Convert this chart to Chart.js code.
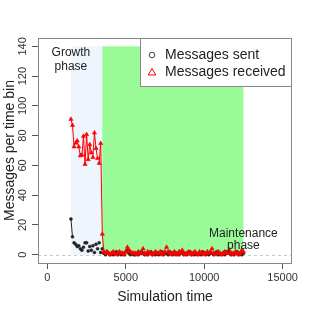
<!DOCTYPE html>
<html>
<head>
<meta charset="utf-8">
<script src="https://cdn.jsdelivr.net/npm/chart.js@4/dist/chart.umd.min.js"></script>
<style>
  html, body { margin: 0; padding: 0; background: #fff; }
  canvas { display: block; }
</style>
</head>
<body>
<canvas id="messageChart" width="312" height="312"></canvas>
<script>
// ----data------------------------------
const binTimes = [
  1500, 1600, 1700, 1800, 1900, 2000, 2100, 2200, 2300, 2400,
  2500, 2600, 2700, 2800, 2900, 3000, 3100, 3200, 3300, 3400,
  3500, 3600, 3700, 3800, 3900, 4000, 4100, 4200, 4300, 4400,
  4500, 4600, 4700, 4800, 4900, 5000, 5100, 5200, 5300, 5400,
  5500, 5600, 5700, 5800, 5900, 6000, 6100, 6200, 6300, 6400,
  6500, 6600, 6700, 6800, 6900, 7000, 7100, 7200, 7300, 7400,
  7500, 7600, 7700, 7800, 7900, 8000, 8100, 8200, 8300, 8400,
  8500, 8600, 8700, 8800, 8900, 9000, 9100, 9200, 9300, 9400,
  9500, 9600, 9700, 9800, 9900, 10000, 10100, 10200, 10300, 10400,
  10500, 10600, 10700, 10800, 10900, 11000, 11100, 11200, 11300, 11400,
  11500, 11600, 11700, 11800, 11900, 12000, 12100, 12200, 12300, 12400,
  12500
];

const sentCounts = [
  24, 12, 8, 7, 5.5, 6, 4, 3, 5, 8,
  8, 2.5, 5.5, 3, 6, 1.5, 7, 4, 8, 1.5,
  4,
  1, 0, 2, 1, 0, 1, 0, 1, 2, 0,
  1, 0, 1, 0, 2, 3, 1, 0, 1, 0,
  0, 1, 0, 1, 2, 1, 0, 1, 0, 1,
  2, 0, 1, 0, 1, 0, 1, 2, 0, 1,
  1, 0, 2, 1, 0, 1, 0, 1, 0, 2,
  1, 0, 1, 0, 1, 2, 0, 1, 0, 1,
  0, 1, 0, 2, 1, 0, 1, 0, 1, 1,
  0, 1, 2, 0, 1, 0, 1, 0, 2, 1,
  1, 0, 1, 0, 1, 2, 0, 1, 0, 1
];

const receivedCounts = [
  91, 87, 72.5, 75, 76.5, 72.5, 66.5, 67, 79.6, 60.7,
  80.8, 64, 74, 68.5, 65.4, 81.9, 71.4, 64.7, 61.4, 74.8,
  13.8,
  2, 1, 2, 1, 0, 1, 2, 1, 0, 1,
  2, 1, 1, 0, 2, 5, 3, 2, 1, 1,
  1, 0, 2, 1, 1, 4, 1, 0, 2, 1,
  1, 0, 1, 2, 1, 1, 2, 0, 1, 2,
  5, 2, 1, 0, 1, 2, 1, 0, 2, 1,
  3, 1, 0, 1, 2, 1, 0, 1, 2, 1,
  0, 2, 1, 1, 0, 1, 2, 1, 2, 4,
  1, 0, 1, 2, 1, 0, 1, 2, 1, 1,
  3, 1, 0, 1, 2, 1, 0, 1, 3, 2
];

const seriesLabels = ["Messages sent", "Messages received"];
const xTicks = [0, 5000, 10000, 15000];
const yTicks = [0, 20, 40, 60, 80, 100, 120, 140];
const growthPhase = [1500, 3500];
const maintenancePhase = [3500, 12500];
const phaseTop = 140;
// ----end data---------

const FONT = "'Liberation Sans', Arial, Helvetica, sans-serif";

const toPoints = (values) => binTimes.map((t, i) => ({ x: t, y: values[i] }));

// R type="b" look: short segments vanish behind the points
const hideShort = (minLen) => (ctx) =>
  Math.hypot(ctx.p1.x - ctx.p0.x, ctx.p1.y - ctx.p0.y) < minLen ? "transparent" : undefined;

const phasePlugin = {
  id: "phases",
  beforeDatasetsDraw(chart) {
    const { ctx, chartArea, scales: { x, y } } = chart;
    const top = y.getPixelForValue(phaseTop);
    const bottom = y.getPixelForValue(0);
    ctx.save();
    ctx.fillStyle = "#EEF5FD";
    let x0 = x.getPixelForValue(growthPhase[0]);
    let x1 = x.getPixelForValue(growthPhase[1]);
    ctx.fillRect(x0, top, x1 - x0, bottom - top);
    ctx.fillStyle = "#98FB98";
    x0 = x.getPixelForValue(maintenancePhase[0]);
    x1 = x.getPixelForValue(maintenancePhase[1]);
    ctx.fillRect(x0, top, x1 - x0, bottom - top);
    // dashed zero line
    ctx.strokeStyle = "#c8c8c8";
    ctx.lineWidth = 1;
    ctx.setLineDash([3, 3]);
    ctx.beginPath();
    ctx.moveTo(chartArea.left, Math.round(bottom) + 0.5);
    ctx.lineTo(chartArea.right, Math.round(bottom) + 0.5);
    ctx.stroke();
    ctx.restore();
  },
  afterDraw(chart) {
    const { ctx, chartArea, scales: { x, y } } = chart;
    ctx.save();

    // box
    ctx.strokeStyle = "#888";
    ctx.lineWidth = 1;
    ctx.strokeRect(chartArea.left + 0.5, chartArea.top + 0.5,
      chartArea.right - chartArea.left - 1, chartArea.bottom - chartArea.top);

    // rotated y tick labels
    ctx.fillStyle = "#333";
    ctx.font = "11px " + FONT;
    ctx.textAlign = "center";
    ctx.textBaseline = "middle";
    yTicks.forEach((v) => {
      ctx.save();
      ctx.translate(23, y.getPixelForValue(v));
      ctx.rotate(-Math.PI / 2);
      ctx.fillText(String(v), 0, 0);
      ctx.restore();
    });

    // phase labels
    ctx.fillStyle = "#222";
    ctx.font = "12px " + FONT;
    const gx = x.getPixelForValue(growthPhase[0]);
    ctx.fillText("Growth", gx, y.getPixelForValue(136));
    ctx.fillText("phase", gx, y.getPixelForValue(126));
    const mx = x.getPixelForValue(maintenancePhase[1]);
    ctx.fillText("Maintenance", mx, y.getPixelForValue(14));
    ctx.fillText("phase", mx, y.getPixelForValue(6));

    // legend box
    const lw = 152, lh = 49;
    const lx = chartArea.right - lw, ly = chartArea.top;
    ctx.fillStyle = "#fff";
    ctx.fillRect(lx, ly, lw, lh);
    ctx.strokeStyle = "#888";
    ctx.strokeRect(lx + 0.5, ly + 0.5, lw - 1, lh - 1);

    ctx.lineWidth = 1;
    ctx.strokeStyle = "#444";
    ctx.beginPath();
    ctx.arc(lx + 12, ly + 17, 2.8, 0, Math.PI * 2);
    ctx.stroke();

    ctx.strokeStyle = "#ff0000";
    ctx.beginPath();
    ctx.moveTo(lx + 12, ly + 30.5);
    ctx.lineTo(lx + 15.8, ly + 37);
    ctx.lineTo(lx + 8.2, ly + 37);
    ctx.closePath();
    ctx.stroke();

    ctx.fillStyle = "#222";
    ctx.font = "14px " + FONT;
    ctx.textAlign = "left";
    ctx.fillText(chart.data.datasets[0].label, lx + 25, ly + 17);
    ctx.fillText(chart.data.datasets[1].label, lx + 25, ly + 34);

    ctx.restore();
  },
};

const messageCanvas = document.getElementById("messageChart");

const messageChart = new Chart(messageCanvas, {
  type: "line",
  data: {
    datasets: [
      {
        label: seriesLabels[0],
        data: toPoints(sentCounts),
        borderColor: "#222",
        borderWidth: 1,
        pointStyle: "circle",
        pointRadius: 1.5,
        pointBorderWidth: 0.5,
        pointBackgroundColor: "#222",
        pointBorderColor: "#222",
        segment: { borderColor: hideShort(11) },
        order: 1,
      },
      {
        label: seriesLabels[1],
        data: toPoints(receivedCounts),
        borderColor: "#ff0000",
        borderWidth: 1,
        pointStyle: "triangle",
        pointRadius: 2.4,
        pointBorderWidth: 0.6,
        pointBackgroundColor: "#ff0000",
        pointBorderColor: "#ff0000",
        segment: { borderColor: hideShort(6) },
        order: 0,
      },
    ],
  },
  options: {
    responsive: false,
    animation: false,
    devicePixelRatio: 1,
    layout: { padding: { top: 38, right: 20, bottom: 0, left: 0 } },
    plugins: {
      legend: { display: false },
      tooltip: { enabled: false },
    },
    scales: {
      x: {
        type: "linear",
        min: -600,
        max: 15600,
        afterBuildTicks: (scale) => {
          scale.ticks = xTicks.map((v) => ({ value: v }));
        },
        afterFit: (scale) => {
          scale.height = 49;
        },
        grid: { drawOnChartArea: false, drawTicks: true, tickLength: 6, tickColor: "#555" },
        border: { display: false },
        ticks: {
          padding: 2,
          color: "#333",
          font: { family: FONT, size: 11 },
          maxRotation: 0,
          callback: (v) => String(v),
        },
        title: {
          display: true,
          text: "Simulation time",
          color: "#222",
          font: { family: FONT, size: 14 },
          padding: { top: 0, bottom: 6.5 },
        },
      },
      y: {
        type: "linear",
        min: -5.6,
        max: 145.6,
        afterBuildTicks: (scale) => {
          scale.ticks = yTicks.map((v) => ({ value: v }));
        },
        afterFit: (scale) => {
          scale.width = 38;
        },
        grid: { drawOnChartArea: false, drawTicks: true, tickLength: 6, tickColor: "#555" },
        border: { display: false },
        ticks: { display: false },
        title: {
          display: true,
          text: "Messages per time bin",
          color: "#222",
          font: { family: FONT, size: 14 },
          padding: { top: 1.5, bottom: 0 },
        },
      },
    },
  },
  plugins: [phasePlugin],
});
</script>
</body>
</html>
